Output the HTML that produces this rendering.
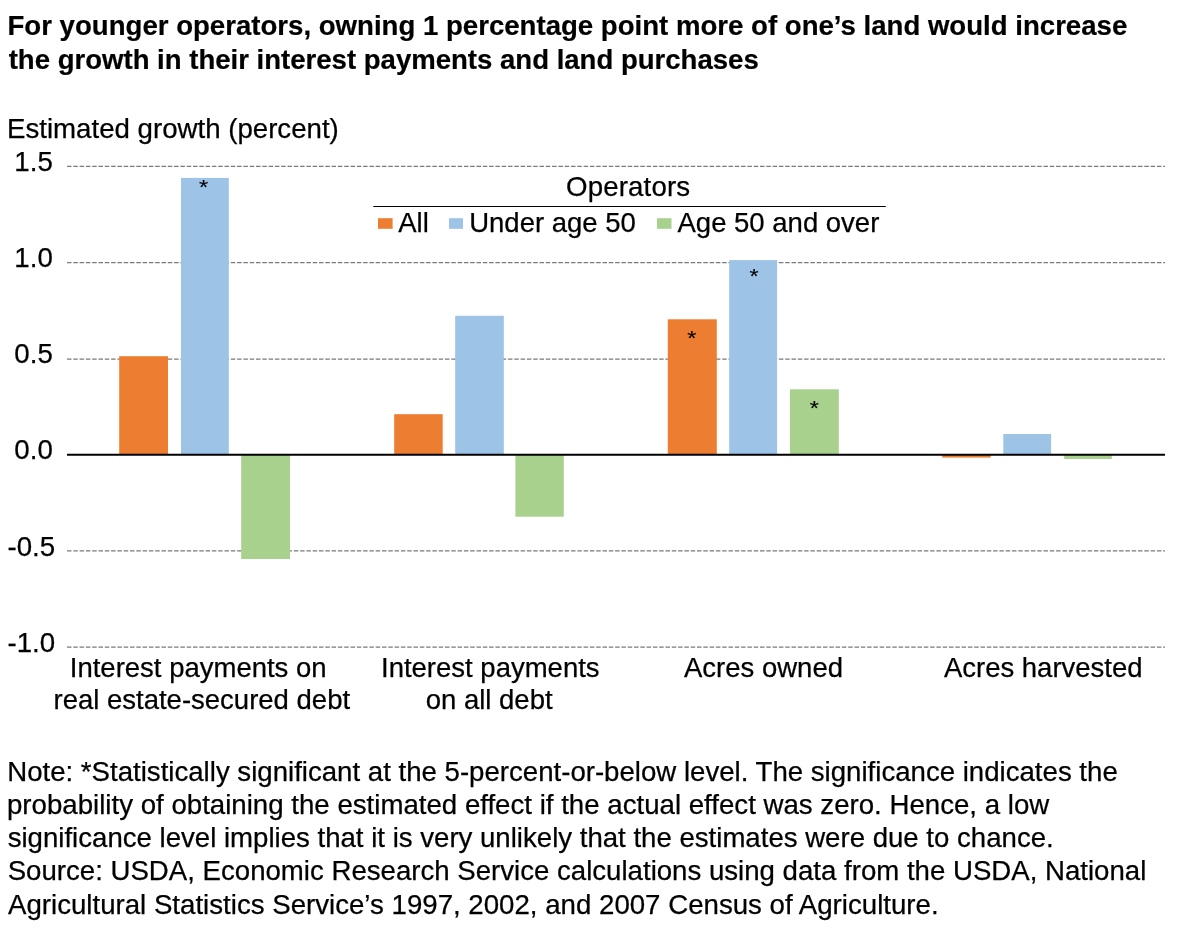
<!DOCTYPE html>
<html lang="en">
<head>
<meta charset="utf-8">
<title>Estimated growth chart</title>
<style>
html,body{margin:0;padding:0;background:#fff;}
body{width:1200px;height:931px;overflow:hidden;}
svg{display:block;}
text{font-family:"Liberation Sans",sans-serif;fill:#000;}
.t{font-weight:bold;font-size:27.6px;stroke:#000;stroke-width:0.2px;}
.r{font-size:27.65px;stroke:#000;stroke-width:0.25px;}
.c{font-size:27.5px;stroke:#000;stroke-width:0.25px;}
.a{font-size:23.5px;stroke:#000;stroke-width:0.15px;text-anchor:middle;}
.g{stroke:#7a7a7a;stroke-width:1.3;stroke-dasharray:4.5 1.8;fill:none;}
</style>
</head>
<body>
<svg width="1200" height="931" viewBox="0 0 1200 931">
<rect x="0" y="0" width="1200" height="931" fill="#ffffff"/>

<!-- title -->
<text class="t" x="7.5" y="35.3">For younger operators, owning 1 percentage point more of one’s land would increase</text>
<text class="t" style="font-size:27.55px" x="8.7" y="68.8">the growth in their interest payments and land purchases</text>

<!-- axis title -->
<text class="r" x="7" y="137.6">Estimated growth (percent)</text>

<!-- gridlines -->
<line class="g" x1="67" x2="1165" y1="166.3" y2="166.3"/>
<line class="g" x1="67" x2="1165" y1="262.6" y2="262.6"/>
<line class="g" x1="67" x2="1165" y1="359.1" y2="359.1"/>
<line class="g" x1="67" x2="1165" y1="550.8" y2="550.8"/>
<line class="g" x1="67" x2="1165" y1="647.2" y2="647.2"/>

<!-- y tick labels -->
<text class="r" x="52.8" y="170.9" text-anchor="end">1.5</text>
<text class="r" x="52.8" y="267.3" text-anchor="end">1.0</text>
<text class="r" x="52.8" y="363.1" text-anchor="end">0.5</text>
<text class="r" x="52.8" y="459.3" text-anchor="end">0.0</text>
<text class="r" x="55.2" y="555.5" text-anchor="end">-0.5</text>
<text class="r" x="55.2" y="651.9" text-anchor="end">-1.0</text>

<!-- bars g1 -->
<rect x="119.2" y="356.2" width="48.8" height="98.5" fill="#ED7D31"/>
<rect x="181.0" y="177.9" width="47.8" height="276.8" fill="#9DC3E6"/>
<rect x="241.2" y="454.7" width="48.8" height="104.3" fill="#A9D18E"/>
<!-- bars g2 -->
<rect x="394.2" y="414.2" width="48.5" height="40.5" fill="#ED7D31"/>
<rect x="455.2" y="315.8" width="48.6" height="138.9" fill="#9DC3E6"/>
<rect x="515.4" y="454.7" width="48.4" height="62.0" fill="#A9D18E"/>
<!-- bars g3 -->
<rect x="667.8" y="319.3" width="49.0" height="135.4" fill="#ED7D31"/>
<rect x="729.2" y="260.1" width="47.9" height="194.6" fill="#9DC3E6"/>
<rect x="789.9" y="389.3" width="48.9" height="65.4" fill="#A9D18E"/>
<!-- bars g4 -->
<rect x="942.2" y="454.7" width="48.5" height="2.9" fill="#ED7D31"/>
<rect x="1003.3" y="434.0" width="47.8" height="20.7" fill="#9DC3E6"/>
<rect x="1064.2" y="454.7" width="47.6" height="4.3" fill="#A9D18E"/>

<!-- zero axis -->
<line x1="67" x2="1165" y1="454.7" y2="454.7" stroke="#000" stroke-width="2.1"/>

<!-- asterisks -->
<text class="a" transform="translate(203.5,183.7) scale(1,0.86)" x="0" y="12.04">*</text>
<text class="a" transform="translate(691.7,334.5) scale(1,0.86)" x="0" y="12.04">*</text>
<text class="a" transform="translate(754.1,272.3) scale(1,0.86)" x="0" y="12.04">*</text>
<text class="a" transform="translate(814.4,404.7) scale(1,0.86)" x="0" y="12.04">*</text>

<!-- legend -->
<text class="r" x="566" y="195.8" letter-spacing="0.15">Operators</text>
<line x1="373.3" x2="885.8" y1="206.5" y2="206.5" stroke="#000" stroke-width="1.2"/>
<rect x="378" y="218.2" width="14.6" height="10.6" fill="#ED7D31"/>
<text class="c" x="398.2" y="232.4">All</text>
<rect x="449" y="218.2" width="14" height="10.6" fill="#9DC3E6"/>
<text class="c" x="469.2" y="232.4">Under age 50</text>
<rect x="657" y="218.2" width="14.5" height="10.6" fill="#A9D18E"/>
<text class="c" x="677.5" y="232.4">Age 50 and over</text>

<!-- category labels -->
<text class="c" x="69.8" y="676.8">Interest payments on</text>
<text class="c" x="53.5" y="709">real estate-secured debt</text>
<text class="c" x="381" y="676.8">Interest payments</text>
<text class="c" x="425.7" y="709">on all debt</text>
<text class="c" x="684" y="676.8">Acres owned</text>
<text class="c" x="943.9" y="676.8">Acres harvested</text>

<!-- notes -->
<text class="r" style="font-size:27.61px" x="7.2" y="781">Note: *Statistically significant at the 5-percent-or-below level. The significance indicates the</text>
<text class="r" x="7" y="814">probability of obtaining the estimated effect if the actual effect was zero. Hence, a low</text>
<text class="r" style="font-size:27.6px" x="7.7" y="847">significance level implies that it is very unlikely that the estimates were due to chance.</text>
<text class="r" style="font-size:27.61px" x="7.7" y="880.3">Source: USDA, Economic Research Service calculations using data from the USDA, National</text>
<text class="r" x="8" y="914.3">Agricultural Statistics Service’s 1997, 2002, and 2007 Census of Agriculture.</text>
</svg>
</body>
</html>
